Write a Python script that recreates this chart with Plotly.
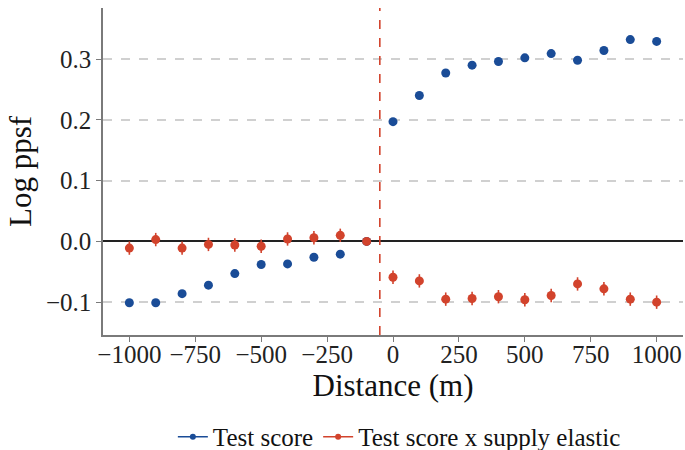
import plotly.graph_objects as go

# Distance bins (m)
dist_left = [-1000, -900, -800, -700, -600, -500, -400, -300, -200, -100]
dist_right = [0, 100, 200, 300, 400, 500, 600, 700, 800, 900, 1000]

# Coefficients: test score
test_left = [-0.101, -0.101, -0.086, -0.072, -0.053, -0.038, -0.037, -0.026, -0.021, 0.0]
test_right = [0.197, 0.240, 0.277, 0.290, 0.296, 0.302, 0.309, 0.298, 0.314, 0.332, 0.329]
test_err_left = [0.006, 0.006, 0.006, 0.006, 0.006, 0.006, 0.006, 0.006, 0.006, 0.0]
test_err_right = [0.006, 0.006, 0.006, 0.006, 0.006, 0.006, 0.006, 0.006, 0.006, 0.006, 0.006]

# Coefficients: test score x supply elastic
elas_left = [-0.011, 0.003, -0.011, -0.005, -0.006, -0.008, 0.004, 0.006, 0.010, 0.0]
elas_right = [-0.059, -0.065, -0.095, -0.094, -0.091, -0.096, -0.089, -0.070, -0.078, -0.095, -0.100]
elas_err_left = [0.011, 0.011, 0.011, 0.011, 0.011, 0.011, 0.011, 0.011, 0.011, 0.0]
elas_err_right = [0.011, 0.011, 0.011, 0.011, 0.011, 0.011, 0.011, 0.011, 0.011, 0.011, 0.011]

cutoff = -50
x_ticks = [-1000, -750, -500, -250, 0, 250, 500, 750, 1000]
y_ticks = [-0.1, 0.0, 0.1, 0.2, 0.3]

BLUE = "#1a4c97"
RED = "#d2432c"
FONT = "Liberation Serif"

dist = dist_left + dist_right
series = [
    ("Test score", test_left + test_right, test_err_left + test_err_right, BLUE),
    ("Test score x supply elastic", elas_left + elas_right, elas_err_left + elas_err_right, RED),
]

fig = go.Figure()
for name, vals, errs, color in series:
    fig.add_trace(go.Scatter(
        x=dist, y=vals, mode="markers", name=name, showlegend=False,
        marker=dict(color=color, size=9),
        error_y=dict(type="data", array=errs, visible=True, color=color,
                     thickness=1.6, width=0),
    ))
# legend keys: point with a short line through it
for name, vals, errs, color in series:
    fig.add_trace(go.Scatter(
        x=[None], y=[None], mode="lines+markers", name=name,
        marker=dict(color=color, size=6), line=dict(color=color, width=1.6),
    ))

fig.add_shape(type="line", xref="x", yref="paper", x0=cutoff, x1=cutoff, y0=0, y1=1,
              line=dict(color=RED, width=1.6, dash="dash"))

fig.update_layout(
    width=685, height=450,
    margin=dict(l=103, r=2, t=8, b=115, autoexpand=False),
    plot_bgcolor="white", paper_bgcolor="white",
    font=dict(family=FONT, size=25, color="#222222"),
    showlegend=True,
    legend=dict(orientation="h", xref="container", yref="container",
                x=0.583, xanchor="center", y=0.029, yanchor="middle",
                font=dict(family=FONT, size=25, color="#111111"),
                itemwidth=30, tracegroupgap=0),
)
fig.update_xaxes(
    range=[-1100, 1100], tickvals=x_ticks,
    ticktext=[str(v).replace("-", "\u2212") for v in x_ticks],
    showgrid=False, zeroline=False,
    showline=True, linecolor="#7a7a7a", linewidth=1.5,
    ticks="outside", ticklen=5, tickcolor="#7a7a7a", tickwidth=1.2,
    ticklabelstandoff=-9,
    tickfont=dict(family=FONT, size=25, color="#222222"),
    title=dict(text="Distance (m)", font=dict(family=FONT, size=31, color="#111111"), standoff=6),
)
fig.update_yaxes(
    range=[-0.154, 0.384], tickvals=y_ticks,
    ticktext=[f"{v:.1f}".replace("-", "\u2212") for v in y_ticks],
    showgrid=True, gridcolor="#d0d0d0", gridwidth=1.5, griddash="dash",
    zeroline=True, zerolinecolor="#222222", zerolinewidth=2,
    showline=True, linecolor="#7a7a7a", linewidth=1.5,
    ticks="outside", ticklen=5, tickcolor="#7a7a7a", tickwidth=1.2,
    tickfont=dict(family=FONT, size=25, color="#222222"),
    title=dict(text="Log ppsf", font=dict(family=FONT, size=31, color="#111111"), standoff=5),
)

fig.write_html("out.html")
